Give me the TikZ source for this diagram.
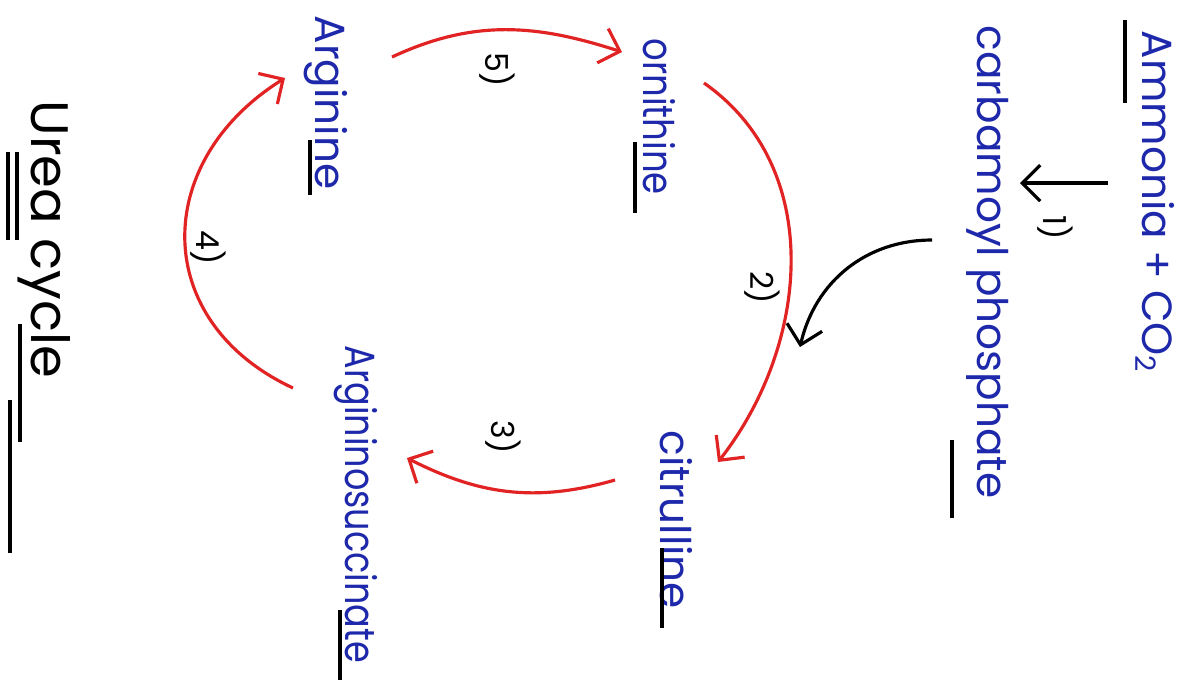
\documentclass[tikz,border=0pt]{standalone}
\usepackage{fontspec}
\setmainfont{Poppins}
\usetikzlibrary{arrows.meta}
\definecolor{penblue}{RGB}{30,40,170}
\definecolor{penred}{RGB}{225,35,35}

\begin{document}
\begin{tikzpicture}[font=\fontsize{12}{14}\selectfont,
  compound/.style={anchor=west, rotate=-90, inner sep=0pt, text=penblue},
  stepno/.style={rotate=-90, inner sep=0pt, font=\fontsize{9}{10}\selectfont},
  cyclearrow/.style={draw=penred, line width=0.9pt, -{Straight Barb[length=1.8mm,width=3.6mm]}},
  feedarrow/.style={draw=black, line width=0.9pt, -{Straight Barb[length=1.8mm,width=3.6mm]}},
  underbar/.style={draw=black, line width=1.1pt}]
  \useasboundingbox[fill=white] (0,0) rectangle (11.92,-6.80);
  % compounds
  \node[compound] (ammonia) at (11.55,-0.30) {Ammonia + CO\textsubscript{2}};
  \node[compound] (carbamoyl) at (9.88,-0.25) {carbamoyl phosphate};
  \node[compound] (ornithine) at (6.59,-0.38) {\scalebox{0.84}[1]{ornithine}};
  \node[compound] (citrulline) at (6.76,-4.30) {citrulline};
  \node[compound] (argsucc) at (3.56,-3.45) {\scalebox{0.83}[1]{Argininosuccinate}};
  \node[compound] (arginine) at (3.26,-0.15) {Arginine};
  \node[compound, text=black, font=\fontsize{15}{18}\selectfont] (title) at (0.44,-1.00) {Urea cycle};
  % step numbers
  \node[stepno] (s1) at (10.55,-2.28) {1)};
  \node[stepno] (s2) at (7.62,-2.88) {2)};
  \node[stepno] (s3) at (5.03,-4.37) {3)};
  \node[stepno] (s4) at (2.08,-2.48) {4)};
  \node[stepno] (s5) at (4.97,-0.70) {5)};
  % underlines
  \foreach \x/\ya/\yb in {11.25/-0.20/-1.03, 9.52/-4.40/-5.18, 6.35/-1.42/-2.13,
      3.10/-1.40/-1.95, 6.62/-5.48/-6.28, 3.40/-6.10/-6.80, 0.08/-1.52/-2.40,
      0.17/-1.52/-2.40, 0.20/-3.24/-4.42, 0.10/-4.00/-5.53}
    \draw[underbar] (\x,\ya) -- (\x,\yb);
  % arrows
  \draw[feedarrow] ([shift={(-0.47,-1.53)}]ammonia.west) -- ([shift={(0.32,-1.58)}]carbamoyl.west);
  \draw[cyclearrow] ([shift={(0.66,-0.42)}]arginine.west) to[out=25,in=162] ([shift={(-0.37,-0.14)}]ornithine.west);
  \draw[cyclearrow] ([shift={(0.45,-0.45)}]ornithine.west) to[out=-35,in=52] ([shift={(0.42,-0.32)}]citrulline.west);
  \draw[cyclearrow] ([shift={(-0.61,-0.50)}]citrulline.west) to[out=196,in=-27] ([shift={(0.51,-1.13)}]argsucc.west);
  \draw[cyclearrow] ([shift={(-0.63,-0.43)}]argsucc.west) to[out=155,in=-148,looseness=1.3] ([shift={(-0.41,-0.63)}]arginine.west);
  \coordinate (join) at (8.00,-3.47);
  \draw[feedarrow] ([shift={(-0.56,-2.15)}]carbamoyl.west) to[out=180,in=77] (join);
\end{tikzpicture}
\end{document}
